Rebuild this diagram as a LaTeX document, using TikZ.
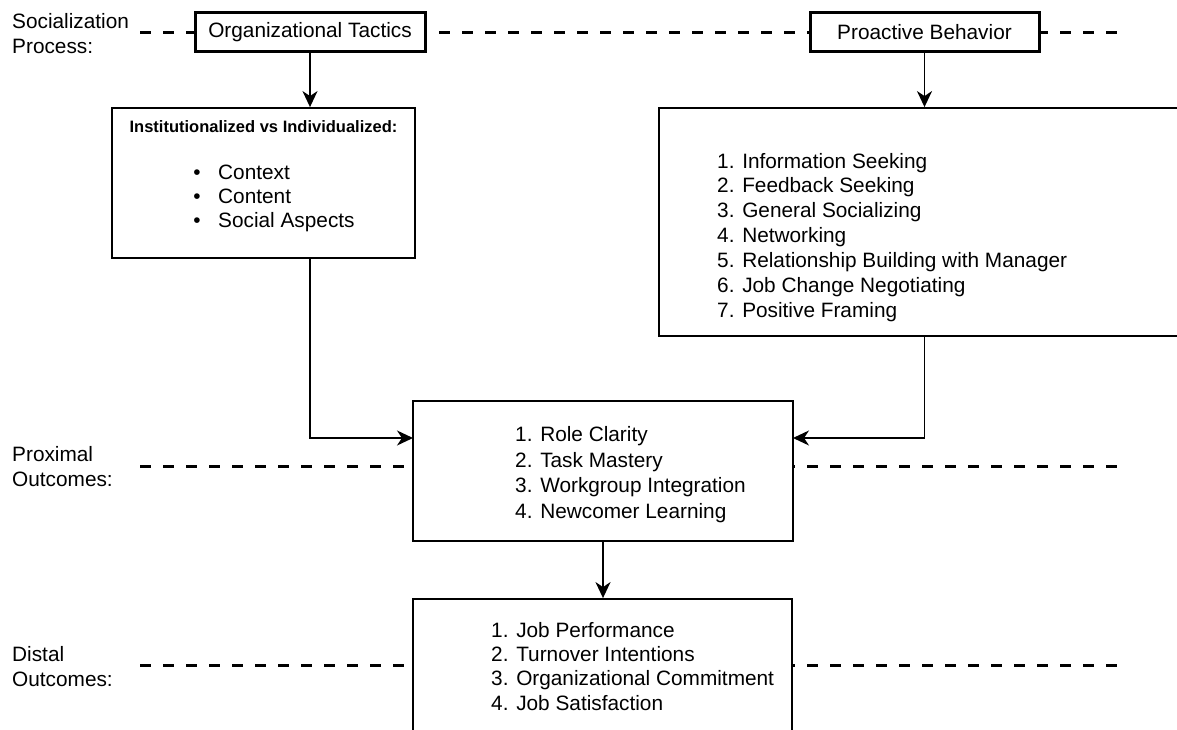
\documentclass[tikz,border=0pt]{standalone}
\usepackage{fontspec}
\setmainfont{Liberation Sans}
\usetikzlibrary{arrows.meta}
\begin{document}
\begin{tikzpicture}[x=1pt,y=-1pt,
  txt/.style={font=\fontsize{20.8}{25}\selectfont, inner sep=0pt, anchor=base west},
  txtb/.style={font=\fontsize{16.5}{20}\selectfont\bfseries, inner sep=0pt, anchor=base},
  thickbox/.style={draw, line width=3pt, fill=white, inner sep=0pt, font=\fontsize{20.8}{25}\selectfont},
  box/.style={draw, line width=1.8pt, fill=white, inner sep=0pt},
  conn/.style={line width=1.8pt, -{Stealth[length=16pt,width=15pt,inset=5pt]}},
  sep/.style={line width=3pt, dash pattern=on 11pt off 12pt}]
\useasboundingbox (0,0) rectangle (1177,730);
\clip (0,0) rectangle (1177,730);
% separators
\coordinate (s1a) at (140,32.5); \coordinate (s1b) at (1122,32.5);
\coordinate (s2a) at (140,466); \coordinate (s2b) at (1122,466);
\coordinate (s3a) at (140,665); \coordinate (s3b) at (1122,665);
\draw[sep] (s1a) -- (s1b);
\draw[sep] (s2a) -- (s2b);
\draw[sep] (s3a) -- (s3b);
% left labels
\node[txt] (lab1) at (12,28.5) {Socialization};
\node[txt] (lab2) at (12,53.5) {Process:};
\node[txt] (lab3) at (12,461.5) {Proximal};
\node[txt] (lab4) at (12,486.5) {Outcomes:};
\node[txt] (lab5) at (12,661.5) {Distal};
\node[txt] (lab6) at (12,686.5) {Outcomes:};
% boxes
\node[thickbox, minimum width=230pt, minimum height=39pt] (ot) at (310,32.5) {Organizational Tactics};
\node[thickbox, minimum width=229pt, minimum height=39pt] (pb) at (924.5,32.5) {Proactive Behavior};
\node[box, minimum width=303pt, minimum height=150pt] (ib) at (263.5,183) {};
\node[box, minimum width=541pt, minimum height=228pt] (pl) at (929.5,222) {};
\node[box, minimum width=380pt, minimum height=140pt] (mb) at (603,471) {};
\node[box, minimum width=379pt, minimum height=161pt] (db) at (602.5,679.5) {};
% texts
\node[txtb] (ibt) at (263.5,133) {Institutionalized vs Individualized:};
\foreach \t [count=\i] in {Context,Content,Social Aspects}{
  \node[txt, anchor=base] (bd\i) at (197,{155.5+24*\i}) {•};
  \node[txt] (bt\i) at (218,{155.5+24*\i}) {\t};
}
\foreach \t [count=\i] in {1. Information Seeking,2. Feedback Seeking,3. General Socializing,4. Networking,5. Relationship Building with Manager,6. Job Change Negotiating,7. Positive Framing}{
  \node[txt] (pt\i) at (717,{143.1+24.9*\i}) {\t};
}
\foreach \t [count=\i] in {1. Role Clarity,2. Task Mastery,3. Workgroup Integration,4. Newcomer Learning}{
  \node[txt] (mt\i) at (515,{416+25.5*\i}) {\t};
}
\foreach \t [count=\i] in {1. Job Performance,2. Turnover Intentions,3. Organizational Commitment,4. Job Satisfaction}{
  \node[txt] (dt\i) at (491,{613.3+24.2*\i}) {\t};
}
% connectors
\coordinate (mbL) at (413,438);
\coordinate (mbR) at (793,438);
\draw[conn] (ot.south) -- (ot.south |- ib.north);
\draw[conn] (pb.south) -- (pb.south |- pl.north);
\draw[conn] (ot.south |- ib.south) |- (mbL);
\draw[conn] (pb.south |- pl.south) |- (mbR);
\draw[conn] (mb.south) -- (mb.south |- db.north);
\end{tikzpicture}
\end{document}
